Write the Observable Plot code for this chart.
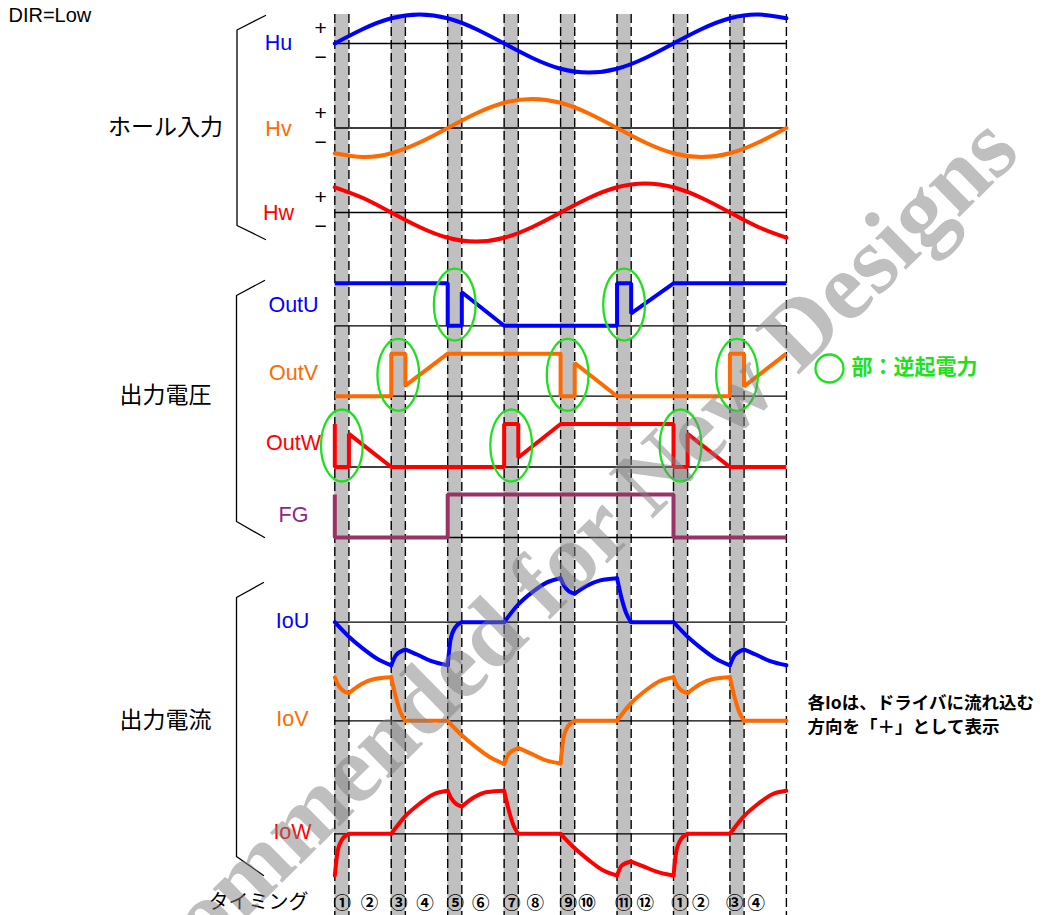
<!DOCTYPE html>
<html><head><meta charset="utf-8">
<script src="https://cdn.jsdelivr.net/npm/d3@7"></script>
<script src="https://cdn.jsdelivr.net/npm/@observablehq/plot@0.6"></script>
<style>
html,body{margin:0;padding:0;background:#fff;}
#chart{position:relative;width:1049px;height:915px;overflow:hidden;}
</style></head><body><div id="chart"></div>
<script>
// ---------- DATA (electrical angle in degrees) ----------
const bandStarts = [0, 60, 120, 180, 240, 300, 360, 420];
const dashedLines = [0, 15, 60, 75, 120, 135, 180, 195, 240, 255, 300, 315, 360, 375, 420, 435, 480];

// Hall inputs, sampled every 30°
const hallAngles = [0, 30, 60, 90, 120, 150, 180, 210, 240, 270, 300, 330, 360, 390, 420, 450, 480];
const Hu = [0, 0.5, 0.87, 1, 0.87, 0.5, 0, -0.5, -0.87, -1, -0.87, -0.5, 0, 0.5, 0.87, 1, 0.87];
const Hv = [-0.87, -1, -0.87, -0.5, 0, 0.5, 0.87, 1, 0.87, 0.5, 0, -0.5, -0.87, -1, -0.87, -0.5, 0];
const Hw = [0.87, 0.5, 0, -0.5, -0.87, -1, -0.87, -0.5, 0, 0.5, 0.87, 1, 0.87, 0.5, 0, -0.5, -0.87];

// Output voltages (0 = low, 1 = high), vertices [angle, level]
const OutU = [[0,1],[120,1],[120,0],[135,0],[135,0.79],[180,0],[300,0],[300,1],[315,1],[315,0.29],[360,1],[480,1]];
const OutV = [[0,0],[60,0],[60,1],[75,1],[75,0.25],[120,1],[240,1],[240,0],[255,0],[255,0.78],[300,0],[420,0],[420,1],[435,1],[435,0.23],[480,1]];
const OutW = [[0,1],[0,0],[15,0],[15,0.77],[60,0],[180,0],[180,1],[195,1],[195,0.22],[240,1],[360,1],[360,0],[375,0],[375,0.77],[420,0],[480,0]];
const FG   = [[0,1],[0,0],[120,0],[120,1],[360,1],[360,0],[480,0]];

// Output currents (positive = into driver), segments of [angle, value]
const IoU = [
  [[0,0],[15,-0.33],[30,-0.6],[45,-0.83],[60,-0.98]],
  [[60,-0.98],[65,-0.75],[75,-0.62]],
  [[75,-0.62],[88,-0.74],[102,-0.88],[120,-0.98]],
  [[120,-0.98],[123,-0.4],[128,-0.12],[135,0]],
  [[135,0],[180,0]],
  [[180,0],[194,0.38],[211,0.7],[225,0.9],[240,1]],
  [[240,1],[244,0.82],[249,0.7],[255,0.65]],
  [[255,0.65],[268,0.83],[282,0.95],[300,1]],
  [[300,1],[305,0.53],[310,0.19],[315,0]],
  [[315,0],[360,0]],
  [[360,0],[375,-0.33],[390,-0.6],[405,-0.83],[420,-0.98]],
  [[420,-0.98],[425,-0.75],[435,-0.62]],
  [[435,-0.62],[448,-0.74],[462,-0.88],[480,-0.98]]
];
const IoV = [
  [[0,0.99],[4,0.8],[9,0.68],[15,0.63]],
  [[15,0.63],[28,0.83],[42,0.95],[60,0.99]],
  [[60,0.99],[65,0.53],[70,0.19],[75,0]],
  [[75,0],[120,0]],
  [[120,0],[135,-0.33],[150,-0.6],[165,-0.83],[180,-0.98]],
  [[180,-0.98],[185,-0.75],[195,-0.62]],
  [[195,-0.62],[208,-0.74],[222,-0.88],[240,-0.97]],
  [[240,-0.97],[243,-0.4],[248,-0.12],[255,0]],
  [[255,0],[300,0]],
  [[300,0],[314,0.38],[331,0.7],[345,0.9],[360,0.99]],
  [[360,0.99],[364,0.8],[369,0.68],[375,0.63]],
  [[375,0.63],[388,0.83],[402,0.95],[420,0.99]],
  [[420,0.99],[425,0.53],[430,0.19],[435,0]],
  [[435,0],[480,0]]
];
const IoW = [
  [[0,-0.95],[3,-0.4],[8,-0.12],[15,0]],
  [[15,0],[60,0]],
  [[60,0],[74,0.38],[91,0.7],[105,0.9],[120,0.98]],
  [[120,0.98],[124,0.8],[129,0.68],[135,0.62]],
  [[135,0.62],[148,0.83],[162,0.95],[180,0.98]],
  [[180,0.98],[185,0.53],[190,0.19],[195,0]],
  [[195,0],[240,0]],
  [[240,0],[255,-0.33],[270,-0.6],[285,-0.83],[300,-0.95]],
  [[300,-0.95],[305,-0.72],[315,-0.63]],
  [[315,-0.63],[328,-0.74],[342,-0.86],[360,-0.95]],
  [[360,-0.95],[363,-0.4],[368,-0.12],[375,0]],
  [[375,0],[420,0]],
  [[420,0],[434,0.38],[451,0.7],[465,0.9],[480,0.98]]
];

// Back-EMF events (green ellipses)
const emfEvents = [["OutU",120],["OutU",300],["OutV",60],["OutV",240],["OutV",420],["OutW",0],["OutW",180],["OutW",360]];

// Timing labels
const timingLabels = ["①","②","③","④","⑤","⑥","⑦","⑧","⑨","⑩","⑪","⑫","①","②","③","④"];
const timingPos = [8, 37, 68, 96, 128, 155, 188, 213, 248, 268, 307, 330, 367, 389, 425, 448];

const groupLabels = ["ホール入力", "出力電圧", "出力電流"];
const dirLabel = "DIR=Low";
const emfLegend = "部：逆起電力";
const noteLines = ["各Ioは、ドライバに流れ込む", "方向を「＋」として表示"];
const watermark = "Not Recommended for New Designs";

// ---------- LAYOUT ----------
const rows = {
  Hu:   {base: 43,    amp: 29, color: "#0000ff", label: "Hu",   lx: 278, ly: 43},
  Hv:   {base: 127.5, amp: 29, color: "#ff6a00", label: "Hv",   lx: 278, ly: 129},
  Hw:   {base: 212,   amp: 29, color: "#ff0000", label: "Hw",   lx: 278, ly: 213},
  OutU: {base: 325.3, amp: 42.5, color: "#0000ff", label: "OutU", lx: 293, ly: 305},
  OutV: {base: 395.7, amp: 42.5, color: "#ff6a00", label: "OutV", lx: 293, ly: 373},
  OutW: {base: 466.5, amp: 43, color: "#ff0000", label: "OutW", lx: 293, ly: 443},
  FG:   {base: 537,   amp: 43, color: "#993366", label: "FG",   lx: 293, ly: 515, lcolor: "#8e278e"},
  IoU:  {base: 621.7, amp: 44, color: "#0000ff", label: "IoU",  lx: 292, ly: 621},
  IoV:  {base: 720.3, amp: 44, color: "#ff6a00", label: "IoV",  lx: 292, ly: 719},
  IoW:  {base: 833.3, amp: 44, color: "#ff0000", label: "IoW",  lx: 292, ly: 832}
};
const W = 1049, H = 915;
const X0 = 334.3, X480 = 785.9;
const px2deg = px => (px - X0) * 480 / (X480 - X0);
const Y = (name, v) => rows[name].base - rows[name].amp * v;
const green = "#1ee01e";
const jp = "'Noto Sans CJK JP', sans-serif";
const lat = "'Liberation Sans', Arial, sans-serif";

const ellipseSymbol = {
  draw(ctx, size) {
    const r = Math.sqrt(size / Math.PI), ry = r, rx = r * 0.58, k = 0.5523;
    ctx.moveTo(rx, 0);
    ctx.bezierCurveTo(rx, ry * k, rx * k, ry, 0, ry);
    ctx.bezierCurveTo(-rx * k, ry, -rx, ry * k, -rx, 0);
    ctx.bezierCurveTo(-rx, -ry * k, -rx * k, -ry, 0, -ry);
    ctx.bezierCurveTo(rx * k, -ry, rx, -ry * k, rx, 0);
    ctx.closePath();
  }
};

const marks = [];
// gray bands
marks.push(Plot.rect(bandStarts, {x1: d => d, x2: d => d + 15, y1: () => 14, y2: () => H, fill: "#c0c0c0"}));
// dashed lines
marks.push(Plot.ruleX(dashedLines, {x: d => d, y1: () => 14, y2: () => H, stroke: "#000", strokeWidth: 1.4, strokeDasharray: "9,4"}));
// zero lines
marks.push(Plot.ruleY(Object.keys(rows), {y: k => rows[k].base, x1: () => 0, x2: () => 480, stroke: "#000", strokeWidth: 1.3}));

// hall
[["Hu", Hu], ["Hv", Hv], ["Hw", Hw]].forEach(([n, vals]) => {
  marks.push(Plot.line(hallAngles, {x: (d) => d, y: (d, i) => Y(n, vals[i]), stroke: rows[n].color, strokeWidth: 4, curve: "natural"}));
});
// outputs
[["OutU", OutU], ["OutV", OutV], ["OutW", OutW], ["FG", FG]].forEach(([n, pts]) => {
  marks.push(Plot.line(pts, {x: d => d[0], y: d => Y(n, d[1]), stroke: rows[n].color, strokeWidth: 4, strokeLinejoin: "miter", strokeLinecap: "butt"}));
});
// currents
[["IoU", IoU], ["IoV", IoV], ["IoW", IoW]].forEach(([n, segs]) => {
  const data = segs.flatMap((s, i) => s.map(([t, v]) => ({t, v, seg: i})));
  marks.push(Plot.line(data, {x: "t", y: d => Y(n, d.v), z: "seg", stroke: rows[n].color, strokeWidth: 4, curve: "monotone-x", strokeLinecap: "round", strokeLinejoin: "round"}));
});
// ellipses
marks.push(Plot.dot(emfEvents, {x: d => d[1] + 7.5, y: d => Y(d[0], 0.5), r: 36, symbol: ellipseSymbol, stroke: green, strokeWidth: 2.3, fill: "none"}));

// braces
const braces = [
  [[265,15],[236.5,29.5],[236.5,225],[265,239]],
  [[264,280],[236,295],[236,521],[264,537]],
  [[263,582],[236,597],[236,856],[263,875]]
];
braces.forEach(b => marks.push(Plot.line(b, {x: d => px2deg(d[0]), y: d => d[1], stroke: "#000", strokeWidth: 1.3})));

// row labels
Object.keys(rows).forEach(k => {
  const r = rows[k];
  marks.push(Plot.text([r.label], {x: () => px2deg(r.lx), y: () => r.ly, text: d => d, fill: r.lcolor || r.color, fontSize: 21.5, fontFamily: lat}));
});
// + / - for hall
["Hu","Hv","Hw"].forEach(k => {
  marks.push(Plot.text(["+", "\u2212"], {x: () => px2deg(320), y: (d, i) => rows[k].base + (i ? 14 : -15), text: d => d, fontSize: 21, fontFamily: lat, fill: "#000"}));
});
// group labels
marks.push(Plot.text(groupLabels, {x: () => px2deg(165), y: (d, i) => [127, 395, 720][i], text: d => d, fontSize: 23, fontFamily: jp, fill: "#000"}));
marks.push(Plot.text(["タイミング"], {x: () => px2deg(258), y: () => 902, text: d => d, fontSize: 20, fontFamily: jp, fill: "#000"}));
marks.push(Plot.text([dirLabel], {x: () => px2deg(8), y: () => 15, text: d => d, textAnchor: "start", fontSize: 20, fontFamily: lat, fill: "#000"}));
// timing labels
marks.push(Plot.text(timingLabels, {x: (d, i) => timingPos[i], y: () => 903, text: d => d, fontSize: 17.5, fontWeight: "bold", fontFamily: jp, fill: "#000"}));
// legend
marks.push(Plot.dot([0], {x: () => px2deg(829), y: () => 368, r: 14, stroke: green, strokeWidth: 2.3, fill: "none"}));
marks.push(Plot.text([emfLegend], {x: () => px2deg(851), y: () => 367, text: d => d, textAnchor: "start", fontSize: 21, fontWeight: "bold", fontFamily: jp, fill: green}));
// note
marks.push(Plot.text(noteLines, {x: () => px2deg(807), y: (d, i) => [703, 727][i], text: d => d, textAnchor: "start", fontSize: 17.5, fontWeight: "bold", fontFamily: jp, fill: "#000"}));
// watermark
marks.push(Plot.text([watermark], {x: () => px2deg(476), y: () => 648, text: d => d, rotate: -44.5, fontSize: 96, fontWeight: "bold", fontFamily: "'Liberation Serif', 'Times New Roman', serif", fill: "#808080", fillOpacity: 0.5}));

const chart = Plot.plot({
  width: W, height: H,
  marginTop: 0, marginRight: 0, marginBottom: 0, marginLeft: 0,
  x: {domain: [px2deg(0), px2deg(W)], range: [0, W], axis: null},
  y: {domain: [0, H], range: [0, H], axis: null},
  style: {background: "#fff", overflow: "hidden"},
  marks
});
document.getElementById("chart").appendChild(chart);
</script>
</body></html>
